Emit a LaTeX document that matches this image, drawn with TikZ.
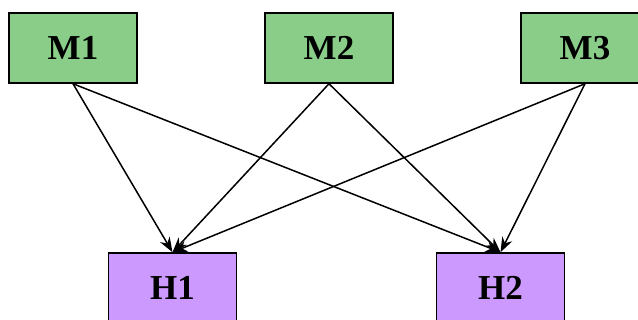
\documentclass[tikz,border=0pt]{standalone}
\usepackage{fontspec}
\setmainfont{Liberation Serif}
\usepackage{tikz}
\usepackage{xcolor}
\usetikzlibrary{arrows.meta}
\usetikzlibrary{positioning}

\definecolor{mgreen}{RGB}{137,205,137}
\definecolor{hpurple}{RGB}{204,153,255}

\tikzset{
  mbox/.style={draw=black, line width=1.5pt, fill=mgreen, minimum width=128pt, minimum height=70pt, inner sep=0pt, font=\fontsize{35}{42}\selectfont\bfseries},
  hbox/.style={draw=black, line width=1.5pt, fill=hpurple, minimum width=128pt, minimum height=70pt, inner sep=0pt, font=\fontsize{35}{42}\selectfont\bfseries},
  link/.style={line width=1.5pt, -{Stealth[length=15pt,width=11pt]}}
}

\begin{document}
\begin{tikzpicture}[x=1pt,y=-1pt]
\useasboundingbox (0,0) rectangle (638,320);

\node[mbox] (m1) at (73,48) {M1};
\node[mbox] (m2) at (329,48) {M2};
\node[mbox] (m3) at (585,48) {M3};

\node[hbox] (h1) at (172.5,288) {H1};
\node[hbox] (h2) at (500.5,288) {H2};

\draw[link] (m1.south) -- (h1.north);
\draw[link] (m1.south) -- (h2.north);
\draw[link] (m2.south) -- (h1.north);
\draw[link] (m2.south) -- (h2.north);
\draw[link] (m3.south) -- (h1.north);
\draw[link] (m3.south) -- (h2.north);
\end{tikzpicture}
\end{document}
